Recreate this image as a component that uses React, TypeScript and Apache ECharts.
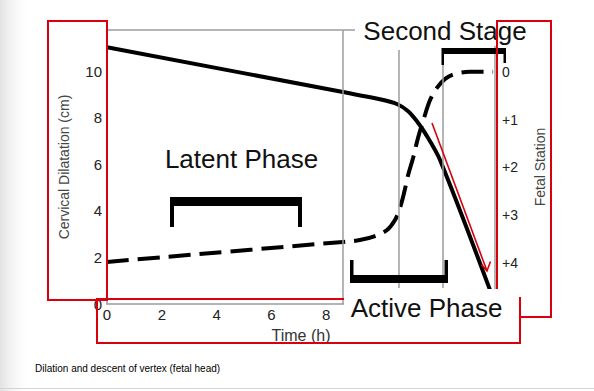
import React, { useEffect, useRef } from 'react';
import * as echarts from 'echarts';

// ---- data ----
const hourLabels = [0, 2, 4, 6, 8];
const dilationTicks = [0, 2, 4, 6, 8, 10];
const stationTicks = [0, 1, 2, 3, 4];
const stationLabels = ['0', '+1', '+2', '+3', '+4'];

// cervical dilatation (cm) vs time (h) — dashed curve
const dilationHours = [0, 8.61, 9.23, 9.78, 10.22, 10.51, 10.69, 10.84, 10.99, 11.17, 11.35, 11.57, 11.79, 12.04, 12.34, 12.7, 13.25, 14.09];
const dilationValues = [1.81, 2.67, 2.75, 2.92, 3.18, 3.61, 4.13, 4.77, 5.55, 6.28, 7.14, 8.0, 8.77, 9.29, 9.68, 9.89, 9.98, 9.98];

// fetal station vs time (h) — solid curve
const stationHours = [0, 8.61, 9.96, 10.58, 10.99, 11.31, 11.61, 12.15, 13.98];
const stationValues = [-0.52, 0.42, 0.57, 0.67, 0.82, 1.03, 1.28, 1.84, 4.57];

// phase boundary lines (h) and their vertical extents (cm)
const phaseLineHours = [8.61, 10.66, 12.24];
const phaseLineTop = [11.78, 10.92, 10.6];
const phaseLineBottom = [0, 0.69, 0.69];

const RED = '#d8000c';
const GRAY = '#9c9c9c';
const FONT = '"Liberation Sans", Arial, Helvetica, sans-serif';

export default function App() {
  const ref = useRef<HTMLDivElement>(null);
  useEffect(() => {
    if (!ref.current) return;
    const chart = echarts.init(ref.current, undefined, { renderer: 'svg' });
    const dil = dilationHours.map((h, i) => [h, dilationValues[i]]);
    const sta = stationHours.map((h, i) => [h, stationValues[i]]);
    const phaseLines = phaseLineHours.map((h, i) => [
      { coord: [h, phaseLineTop[i]] },
      { coord: [h, phaseLineBottom[i]] },
    ]);
    const option: any = {
      animation: false,
      textStyle: { fontFamily: FONT },
      grid: { left: 107, top: 30, right: 99, bottom: 87, containLabel: false },
      xAxis: {
        type: 'value',
        min: 0,
        max: 14.16,
        interval: 2,
        axisLine: { show: true, lineStyle: { color: GRAY, width: 1.5 } },
        axisTick: { show: false },
        splitLine: { show: false },
        axisLabel: {
          color: '#222',
          fontSize: 15,
          margin: 3,
          formatter: (v: number) => (hourLabels.includes(v) ? String(v) : ''),
        },
        name: 'Time (h)',
        nameLocation: 'middle',
        nameGap: 23,
        nameTextStyle: { color: '#333', fontSize: 16 },
      },
      yAxis: [
        {
          type: 'value',
          position: 'left',
          min: 0,
          max: 11.78,
          interval: 2,
          axisLine: { show: true, lineStyle: { color: GRAY, width: 1.5 } },
          axisTick: { show: false },
          splitLine: { show: false },
          axisLabel: {
            color: '#222',
            fontSize: 15,
            margin: 5,
            formatter: (v: number) => (dilationTicks.includes(v) ? String(v) : ''),
          },
          name: 'Cervical Dilatation (cm)',
          nameLocation: 'middle',
          nameRotate: 90,
          nameGap: 36,
          nameTextStyle: { color: '#444', fontSize: 14 },
        },
        {
          type: 'value',
          position: 'right',
          inverse: true,
          min: -0.88,
          max: 4.86,
          axisLine: { show: true, lineStyle: { color: GRAY, width: 1.5 } },
          axisTick: { show: false },
          splitLine: { show: false },
          axisLabel: {
            color: '#222',
            fontSize: 14,
            margin: 7,
            formatter: (v: number) => {
              const i = stationTicks.indexOf(v);
              return i >= 0 ? stationLabels[i] : '';
            },
          },
          name: 'Fetal Station',
          nameLocation: 'middle',
          nameRotate: 90,
          nameGap: 38,
          nameTextStyle: { color: '#444', fontSize: 14 },
        },
      ],
      series: [
        {
          type: 'line',
          data: [],
          z: 1,
          silent: true,
          markLine: {
            silent: true,
            symbol: ['none', 'none'],
            label: { show: false },
            lineStyle: { color: GRAY, width: 1.5, type: 'solid' },
            data: [
              ...phaseLines,
              [{ coord: [0, 11.78] }, { coord: [9.05, 11.78] }],
            ],
          },
        },
        {
          name: 'Cervical dilatation',
          type: 'line',
          yAxisIndex: 0,
          data: dil,
          smooth: 0.35,
          showSymbol: false,
          z: 3,
          lineStyle: { color: '#000', width: 4, type: [22, 9], cap: 'butt' },
        },
        {
          name: 'Fetal station',
          type: 'line',
          yAxisIndex: 1,
          data: sta,
          smooth: 0.3,
          showSymbol: false,
          z: 3,
          lineStyle: { color: '#000', width: 4 },
        },
      ],
      graphic: [
        {
          type: 'rect', silent: true, z: -10,
          shape: { x: 0, y: 0, width: 32, height: 391 },
          style: {
            fill: new echarts.graphic.LinearGradient(0, 0, 1, 0, [
              { offset: 0, color: '#e2e2e2' },
              { offset: 1, color: 'rgba(255,255,255,0)' },
            ]),
          },
        },
        { type: 'line', silent: true, z: 10, shape: { x1: 0, y1: 388.5, x2: 594, y2: 388.5 }, style: { stroke: '#d4d4d4', lineWidth: 1 } },
        // Latent phase
        { type: 'text', z: 20, x: 241.5, y: 159, style: { text: 'Latent Phase', fontSize: 26, fontFamily: FONT, fill: '#111', align: 'center', verticalAlign: 'middle' } },
        { type: 'rect', z: 20, shape: { x: 170, y: 197, width: 132, height: 9 }, style: { fill: '#000' } },
        { type: 'rect', z: 20, shape: { x: 170, y: 197, width: 4, height: 30 }, style: { fill: '#000' } },
        { type: 'rect', z: 20, shape: { x: 298, y: 197, width: 4, height: 30 }, style: { fill: '#000' } },
        // Second stage
        { type: 'rect', z: 20, shape: { x: 356, y: 16, width: 176, height: 30 }, style: { fill: '#fff' } },
        { type: 'text', z: 21, x: 445, y: 31, style: { text: 'Second Stage', fontSize: 26, fontFamily: FONT, fill: '#111', align: 'center', verticalAlign: 'middle' } },
        { type: 'rect', z: 21, shape: { x: 442, y: 48, width: 64, height: 6 }, style: { fill: '#000' } },
        { type: 'rect', z: 21, shape: { x: 441.5, y: 48, width: 2.5, height: 17 }, style: { fill: '#000' } },
        { type: 'rect', z: 21, shape: { x: 503.5, y: 48, width: 2.5, height: 15 }, style: { fill: '#000' } },
        // Active phase
        { type: 'rect', z: 20, shape: { x: 344, y: 289, width: 175.5, height: 52.5 }, style: { fill: '#fff' } },
        { type: 'text', z: 21, x: 426.5, y: 308, style: { text: 'Active Phase', fontSize: 26, fontFamily: FONT, fill: '#111', align: 'center', verticalAlign: 'middle' } },
        { type: 'rect', z: 21, shape: { x: 350, y: 275, width: 98, height: 8 }, style: { fill: '#000' } },
        { type: 'rect', z: 21, shape: { x: 350, y: 260, width: 3.5, height: 23 }, style: { fill: '#000' } },
        { type: 'rect', z: 21, shape: { x: 444.5, y: 260, width: 3.5, height: 23 }, style: { fill: '#000' } },
        // red annotation boxes
        { type: 'rect', z: 30, shape: { x: 48, y: 21, width: 59, height: 279 }, style: { fill: 'none', stroke: RED, lineWidth: 2 } },
        { type: 'polyline', z: 30, shape: { points: [[497, 289], [497, 21], [551, 21], [551, 317], [520, 317]] }, style: { fill: 'none', stroke: RED, lineWidth: 2 } },
        { type: 'polyline', z: 30, shape: { points: [[344, 299], [97, 299], [97, 343], [520, 343], [520, 297]] }, style: { fill: 'none', stroke: RED, lineWidth: 2 } },
        // red arrow
        { type: 'line', z: 30, shape: { x1: 432, y1: 123, x2: 487, y2: 271 }, style: { stroke: RED, lineWidth: 1.6 } },
        { type: 'polyline', z: 30, shape: { points: [[481.5, 264.5], [487, 271], [490.5, 261.5]] }, style: { fill: 'none', stroke: RED, lineWidth: 1.6 } },
        // caption
        { type: 'text', z: 20, x: 35, y: 368, style: { text: 'Dilation and descent of vertex (fetal head)', fontSize: 10, fontFamily: FONT, fill: '#000', align: 'left', verticalAlign: 'middle' } },
      ],
    };
    chart.setOption(option);
    return () => chart.dispose();
  }, []);
  return (
    <div
      ref={ref}
      style={{ position: 'fixed', left: 0, top: 0, width: 594, height: 391, background: '#fff' }}
    />
  );
}
